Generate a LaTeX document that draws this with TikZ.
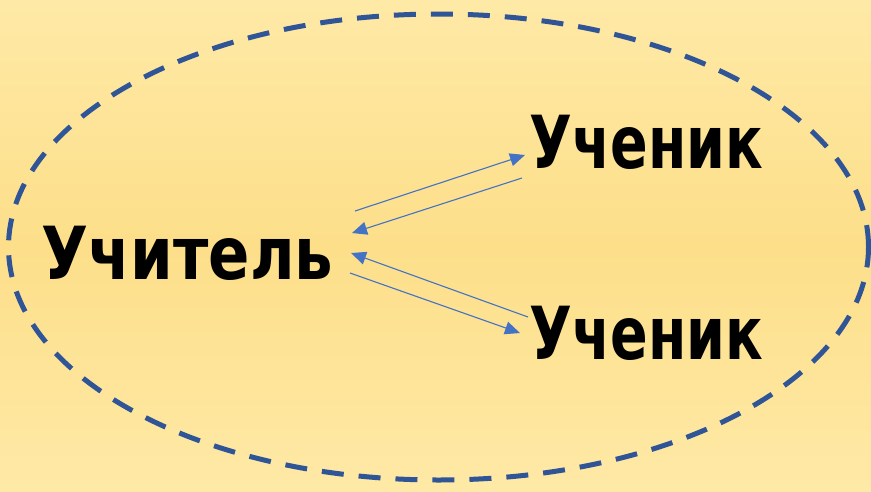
\documentclass[tikz,border=0pt]{standalone}
\usepackage{fontspec}
\setmainfont{DejaVu Sans}
\usetikzlibrary{arrows.meta,positioning}
\definecolor{bgtop}{RGB}{254,233,166}
\definecolor{bgmid}{RGB}{253,223,138}
\definecolor{ringblue}{RGB}{47,85,151}
\definecolor{arrblue}{RGB}{68,114,196}
\tikzset{
    word/.style={inner sep=0pt, yscale=1.2, transform shape, font=\fontsize{61}{61}\bfseries\selectfont},
    pupil/.style={word, xscale=0.91},
    link/.style={arrblue, line width=1.1pt, -{Triangle[length=15pt,width=13pt]}},
    ring/.style={ringblue, line width=5pt, dash pattern=on 22pt off 15pt}
}
\begin{document}
\begin{tikzpicture}[x=1pt,y=-1pt]
    \shade[top color=bgtop, bottom color=bgtop, middle color=bgmid] (0,0) rectangle (871,491);
    \useasboundingbox (0,0) rectangle (871,491);
    \draw[ring] (438.5,247) ellipse [x radius=430pt, y radius=233pt];

    \node[word] (teacher) at (187.5,253) {Учитель};
    \node[pupil] (pupilA) at (646.5,142) {Ученик};
    \node[pupil] (pupilB) at (646.5,333) {Ученик};

    % arrows placed from the node centres
    \draw[link] ([shift={(167.5,-42)}]teacher.center) -- ([shift={(-121.5,13)}]pupilA.center);
    \draw[link] ([shift={(-124.5,36)}]pupilA.center) -- ([shift={(164.5,-20)}]teacher.center);
    \draw[link] ([shift={(-118.5,-16)}]pupilB.center) -- ([shift={(163.5,0)}]teacher.center);
    \draw[link] ([shift={(162.5,20)}]teacher.center) -- ([shift={(-126.5,0)}]pupilB.center);
\end{tikzpicture}
\end{document}
